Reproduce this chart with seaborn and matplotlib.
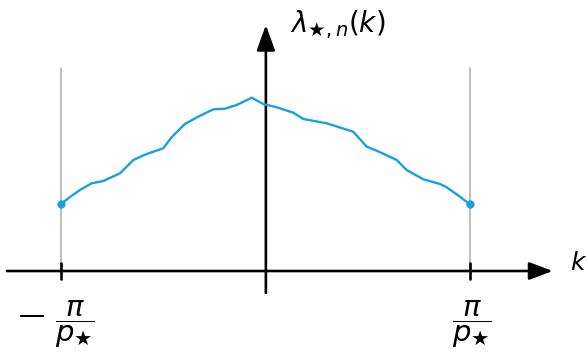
import numpy as np
import pandas as pd
import seaborn as sns
import matplotlib
matplotlib.use("Agg")
import matplotlib.pyplot as plt

# k in units of pi/p_star, lambda in arbitrary units
k_vals = [-1.0, -0.956, -0.907, -0.850, -0.793, -0.711, -0.646, -0.581, -0.500,
          -0.459, -0.394, -0.329, -0.255, -0.198, -0.141, -0.067, -0.011, 0.055,
          0.136, 0.185, 0.299, 0.429, 0.495, 0.544, 0.642, 0.690, 0.772, 0.853,
          0.886, 0.951, 1.0]
lam_vals = [67, 74, 81, 87.7, 90, 97.7, 111, 117, 122.7, 133.7, 147, 154.3, 161.7,
            162.3, 166, 173.3, 167, 163.7, 158.3, 152, 147.7, 139.3, 124.3, 120.3,
            111, 101, 91.7, 87, 83.7, 74.3, 66.7]
tick_pos = [-1.0, 1.0]

sns.set_theme(style="white")
plt.rcParams["mathtext.fontset"] = "dejavusans"
plt.rcParams["font.family"] = ["DejaVu Sans"]
plt.rcParams["text.color"] = "black"

df = pd.DataFrame({"k": k_vals, "lam": lam_vals})
ends = df.iloc[[0, -1]]

fig = plt.figure(figsize=(5.88, 3.52), dpi=100)
ax = fig.add_axes([0, 0, 1, 1])
ax.set_xlim(-1.298, 1.577)
ax.set_ylim(-81, 271)
ax.axis("off")

blue = "#1a9fe0"
black_lw = 1.9

# thin gray guides at +-pi/p
for t in tick_pos:
    ax.plot([t, t], [0, df["lam"].iloc[0] + 136], color="#b3b3b3", lw=1.2, zorder=1)

# axes with arrows
ax.annotate("", xy=(1.405, 0), xytext=(-1.264, 0),
            arrowprops=dict(arrowstyle="-|>,head_length=1.44,head_width=0.54",
                            mutation_scale=10, lw=black_lw, color="black",
                            shrinkA=0, shrinkB=0), zorder=3)
ax.annotate("", xy=(0.002, 246), xytext=(0.002, -22),
            arrowprops=dict(arrowstyle="-|>,head_length=1.55,head_width=0.56",
                            mutation_scale=10, lw=black_lw, color="black",
                            shrinkA=0, shrinkB=0), zorder=3)
for t in tick_pos:
    ax.plot([t, t], [-8, 8], color="black", lw=black_lw, zorder=3)

sns.lineplot(data=df, x="k", y="lam", color=blue, lw=1.7, ax=ax, zorder=4,
             sort=False, legend=False)
sns.scatterplot(data=ends, x="k", y="lam", color=blue, s=30, edgecolor=blue,
                ax=ax, zorder=5, legend=False)
ax.set_xlabel("")
ax.set_ylabel("")

# labels
ax.text(0.12, 246, r"$\lambda_{\bigstar,n}(k)$", fontsize=20, ha="left", va="center")
ax.text(1.49, 8, r"$k$", fontsize=18, ha="left", va="center")
ax.text(-1.14, -45, "\u2014", fontsize=19, ha="center", va="center")
ax.text(-0.932, -53, r"$\dfrac{\pi}{p_\bigstar}$", fontsize=21, ha="center", va="center")
ax.text(1.01, -53, r"$\dfrac{\pi}{p_\bigstar}$", fontsize=21, ha="center", va="center")

fig.savefig("out.png", dpi=100)
